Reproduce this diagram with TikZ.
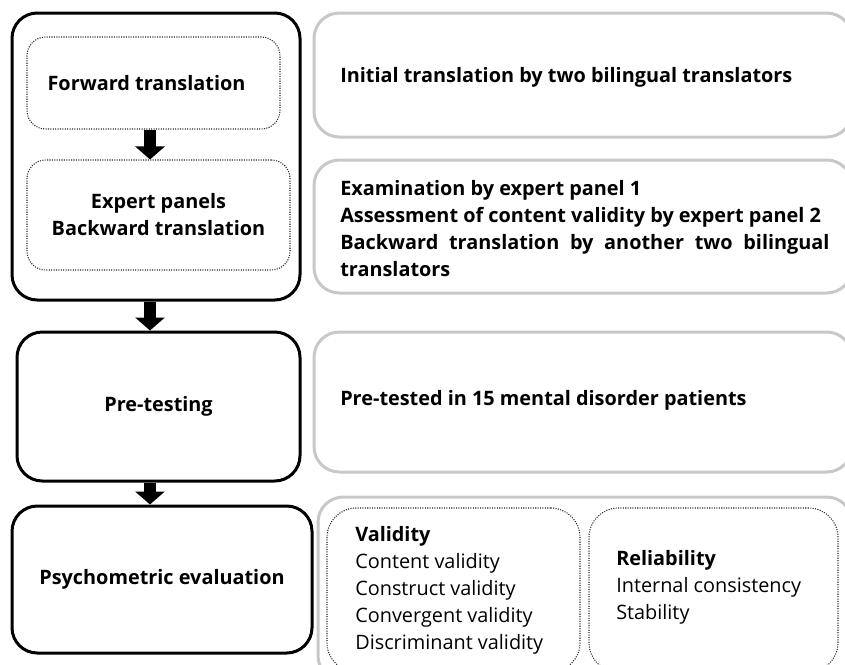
\documentclass[tikz,border=0pt]{standalone}
\usepackage{fontspec}
\setmainfont{Open Sans}
\usetikzlibrary{arrows.meta}
\definecolor{boxgray}{RGB}{200,200,200}
\newcommand{\flowfont}{\fontsize{14.9}{20.25}\selectfont}
\tikzset{
	stage/.style={draw, line width=2.25pt, rounded corners=19pt, font=\flowfont\bfseries, align=center},
	substage/.style={draw=black!85, densely dotted, line width=0.8pt, rounded corners=14pt, font=\flowfont\bfseries, align=center},
	detail/.style={draw=boxgray, line width=2.25pt, rounded corners=19pt},
	itembox/.style={draw=black!85, densely dotted, line width=0.8pt, rounded corners=22pt},
	txt/.style={anchor=west, align=left, inner sep=0pt, font=\flowfont},
	flow/.style={line width=9pt, -{Triangle[width=21.75pt,length=9.75pt]}}
}

\begin{document}
\begin{tikzpicture}[x=0.75pt,y=-0.75pt]
	% page: 845 x 664 px
	\useasboundingbox (0,0) rectangle (845,664);
	\clip (0,0) rectangle (845,664);
	% translation stage
	\node[stage, minimum width=216pt, minimum height=215.25pt] (trans) at (156,156.5) {};
	\node[substage, minimum width=189.75pt, minimum height=69pt] (fwd) at (153.5,83) {};
	\node[font=\flowfont\bfseries] (fwdtxt) at (146.5,83) {Forward translation};
	\node[substage, minimum width=197.25pt, minimum height=82.5pt] (bwd) at (158.5,215) {Expert panels\\Backward translation};
	% pre-testing and evaluation
	\node[stage, minimum width=212.25pt, minimum height=111.75pt] (pre) at (158.5,406.5) {Pre-testing};
	\node[stage, minimum width=225pt, minimum height=110.25pt] (psy) at (162,579.5) {Psychometric evaluation};
	% arrows
	\draw[flow] ([xshift=-2.6pt]fwd.south) -- ([xshift=-2.6pt]fwd.south |- bwd.north);
	\draw[flow] ([xshift=-4.5pt]trans.south) -- ([xshift=-4.5pt]trans.south |- pre.north);
	\draw[flow] ([xshift=-6.4pt]pre.south) -- ([xshift=-6.4pt]pre.south |- psy.north);
	% details on the right
	\node[detail, minimum width=403.5pt, minimum height=93pt] (d1) at (583,75) {};
	\node[txt, font=\flowfont\bfseries] (d1txt) at (340,77) {Initial translation by two bilingual translators};
	\node[detail, minimum width=403.5pt, minimum height=99.75pt] (d2) at (583,226.5) {};
	\node[txt, font=\flowfont\bfseries] (d2txt) at (340,229) {Examination by expert panel 1\\
		Assessment of content validity by expert panel 2\\
		\makebox[367pt][s]{Backward translation by another two bilingual}\\
		translators};
	\node[detail, minimum width=403.5pt, minimum height=105pt] (d3) at (583,402) {};
	\node[txt, font=\flowfont\bfseries] (d3txt) at (340,400) {Pre-tested in 15 mental disorder patients};
	\node[detail, minimum width=400.5pt, minimum height=138pt] (d4) at (585,589) {};
	% validity and reliability
	\node[itembox, minimum width=189.75pt, minimum height=123pt] (val) at (453.5,590) {};
	\node[itembox, minimum width=186.75pt, minimum height=123pt] (rel) at (713.5,590) {};
	\node[txt] (valtxt) at (355,590) {\textbf{Validity}\\Content validity\\Construct validity\\Convergent validity\\Discriminant validity};
	\node[txt] (reltxt) at (616,587) {\textbf{Reliability}\\Internal consistency\\Stability};
\end{tikzpicture}
\end{document}
